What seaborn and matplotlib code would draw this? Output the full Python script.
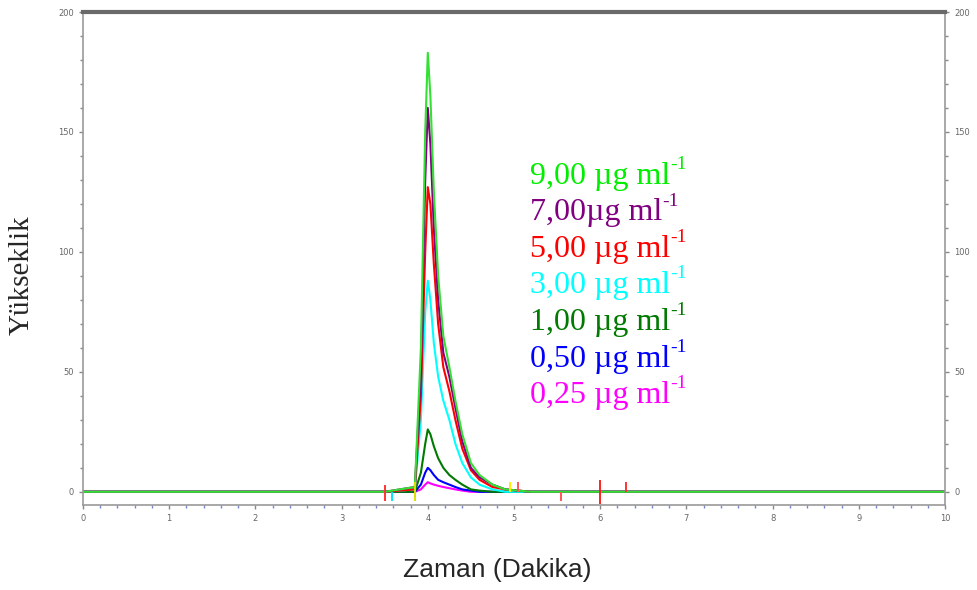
import numpy as np
import pandas as pd
import matplotlib
matplotlib.use("Agg")
import matplotlib.pyplot as plt
import seaborn as sns

# ---- data ----
time_min = [0.0, 2.9, 3.5, 3.85, 3.92, 3.97, 4.0, 4.03, 4.07, 4.12, 4.18,
            4.25, 4.32, 4.4, 4.5, 4.6, 4.75, 4.9, 5.2, 10.0]
conc_labels = ["0,25 µg ml", "0,50 µg ml", "1,00 µg ml", "3,00 µg ml",
               "5,00 µg ml", "7,00µg ml", "9,00 µg ml"]
h_025 = [0, 0, 0, 0, 1, 3, 4, 3.5, 3, 2.5, 2, 1.5, 1, 0.5, 0, 0, 0, 0, 0, 0]
h_050 = [0, 0, 0, 0, 3, 8, 10, 9, 7, 5, 4, 3, 2, 1, 0.5, 0, 0, 0, 0, 0]
h_100 = [0, 0, 0, 0, 8, 20, 26, 24, 19, 14, 10, 7, 5, 3, 1, 0.5, 0, 0, 0, 0]
h_300 = [0, 0, 0, 1, 30, 75, 88, 80, 62, 48, 38, 30, 20, 12, 6, 3, 1, 0, 0, 0]
h_500 = [0, 0, 0, 1, 40, 100, 127, 120, 95, 70, 52, 42, 30, 18, 9, 5, 2, 1, 0, 0]
h_700 = [0, 0, 0, 2, 50, 130, 160, 145, 110, 80, 58, 48, 35, 21, 10, 6, 3, 1, 0, 0]
h_900 = [0, 0, 0, 2, 60, 150, 183, 165, 125, 90, 65, 52, 38, 24, 12, 7, 3, 1, 0, 0]
series_colors = ["#ff00ff", "#0000ff", "#007a00", "#00ffff", "#ff0000",
                 "#800080", "#33e033"]

# small baseline artefacts
spike_t = [3.5, 3.58, 3.85, 4.95, 5.05, 5.55, 6.0, 6.3]
spike_lo = [-4, -4, -4, 0, 0, -4, -5, 0]
spike_hi = [3, 0, 4, 4, 4, 0, 5, 4]
spike_c = ["#ff3333", "#00e5ff", "#dddd00", "#ffee00", "#ff5555",
           "#ff5555", "#ff2222", "#ff3333"]

x_ticks = [0, 1, 2, 3, 4, 5, 6, 7, 8, 9, 10]
y_ticks = [0, 50, 100, 150, 200]

legend_colors = ["#00ee00", "#800080", "#ff0000", "#00ffff", "#007a00",
                 "#0000ff", "#ff00ff"]
legend_text = ["9,00 µg ml", "7,00µg ml", "5,00 µg ml", "3,00 µg ml",
               "1,00 µg ml", "0,50 µg ml", "0,25 µg ml"]

# ---- build long-form frame ----
all_h = [h_025, h_050, h_100, h_300, h_500, h_700, h_900]
df = pd.concat([pd.DataFrame({"Zaman": time_min, "Yukseklik": h, "Derisim": lab})
                for lab, h in zip(conc_labels, all_h)], ignore_index=True)

sns.set_style("white")

fig = plt.figure(figsize=(9.77, 5.9), dpi=100)
ax = fig.add_axes([83 / 977, 1 - 505 / 590, (945 - 83) / 977, (505 - 12) / 590])

sns.lineplot(data=df, x="Zaman", y="Yukseklik", hue="Derisim",
             hue_order=conc_labels, palette=series_colors, estimator=None,
             sort=False, linewidth=1.5, legend=False, ax=ax)
ax.vlines(spike_t, spike_lo, spike_hi, colors=spike_c, linewidth=1.4)

ax.set_xlim(0, 10)
ax.set_ylim(-5.5, 200)
ax.set_xlabel("")
ax.set_ylabel("")
ax.set_xticks(x_ticks)
ax.set_xticklabels([str(v) for v in x_ticks])
ax.set_xticks(np.arange(0, 10.01, 0.2), minor=True)
ax.set_yticks(y_ticks)
ax.set_yticks(np.arange(0, 200.1, 10), minor=True)
ax.tick_params(axis="both", which="major", labelsize=6, labelcolor="#666666",
               colors="#888888", length=3, width=1)
ax.tick_params(axis="x", which="minor", length=2, width=1, colors="#7788cc")
ax.tick_params(axis="y", which="minor", length=2, width=1, colors="#888888")
ax.tick_params(axis="y", which="both", left=True, right=True,
               labelleft=True, labelright=True)
ax.tick_params(axis="x", which="both", bottom=True)

for side in ["left", "right", "bottom"]:
    ax.spines[side].set_color("#999999")
    ax.spines[side].set_linewidth(1.2)
ax.spines["top"].set_color("#6a6a6a")
ax.spines["top"].set_linewidth(3)

# legend as coloured text with manual superscript
fig.canvas.draw()
renderer = fig.canvas.get_renderer()
for i, (txt, col) in enumerate(zip(legend_text, legend_colors)):
    ypix = 184 + i * 36.5
    t = fig.text(530 / 977, 1 - ypix / 590, txt, color=col, fontsize=23,
                 family="Liberation Serif", ha="left", va="baseline")
    bb = t.get_window_extent(renderer=renderer)
    fig.text(bb.x1 / 977 + 0.5 / 977, 1 - (ypix - 15) / 590, "-1", color=col,
             fontsize=14, family="Liberation Serif", ha="left", va="baseline")

fig.text(497 / 977, 1 - 570 / 590, "Zaman (Dakika)", fontsize=19,
         family="Liberation Sans", ha="center", va="center")
fig.text(22 / 977, 1 - 275 / 590, "Yükseklik", fontsize=21,
         family="Liberation Serif", rotation=90, ha="center", va="center")

fig.savefig("out.png", dpi=100)
